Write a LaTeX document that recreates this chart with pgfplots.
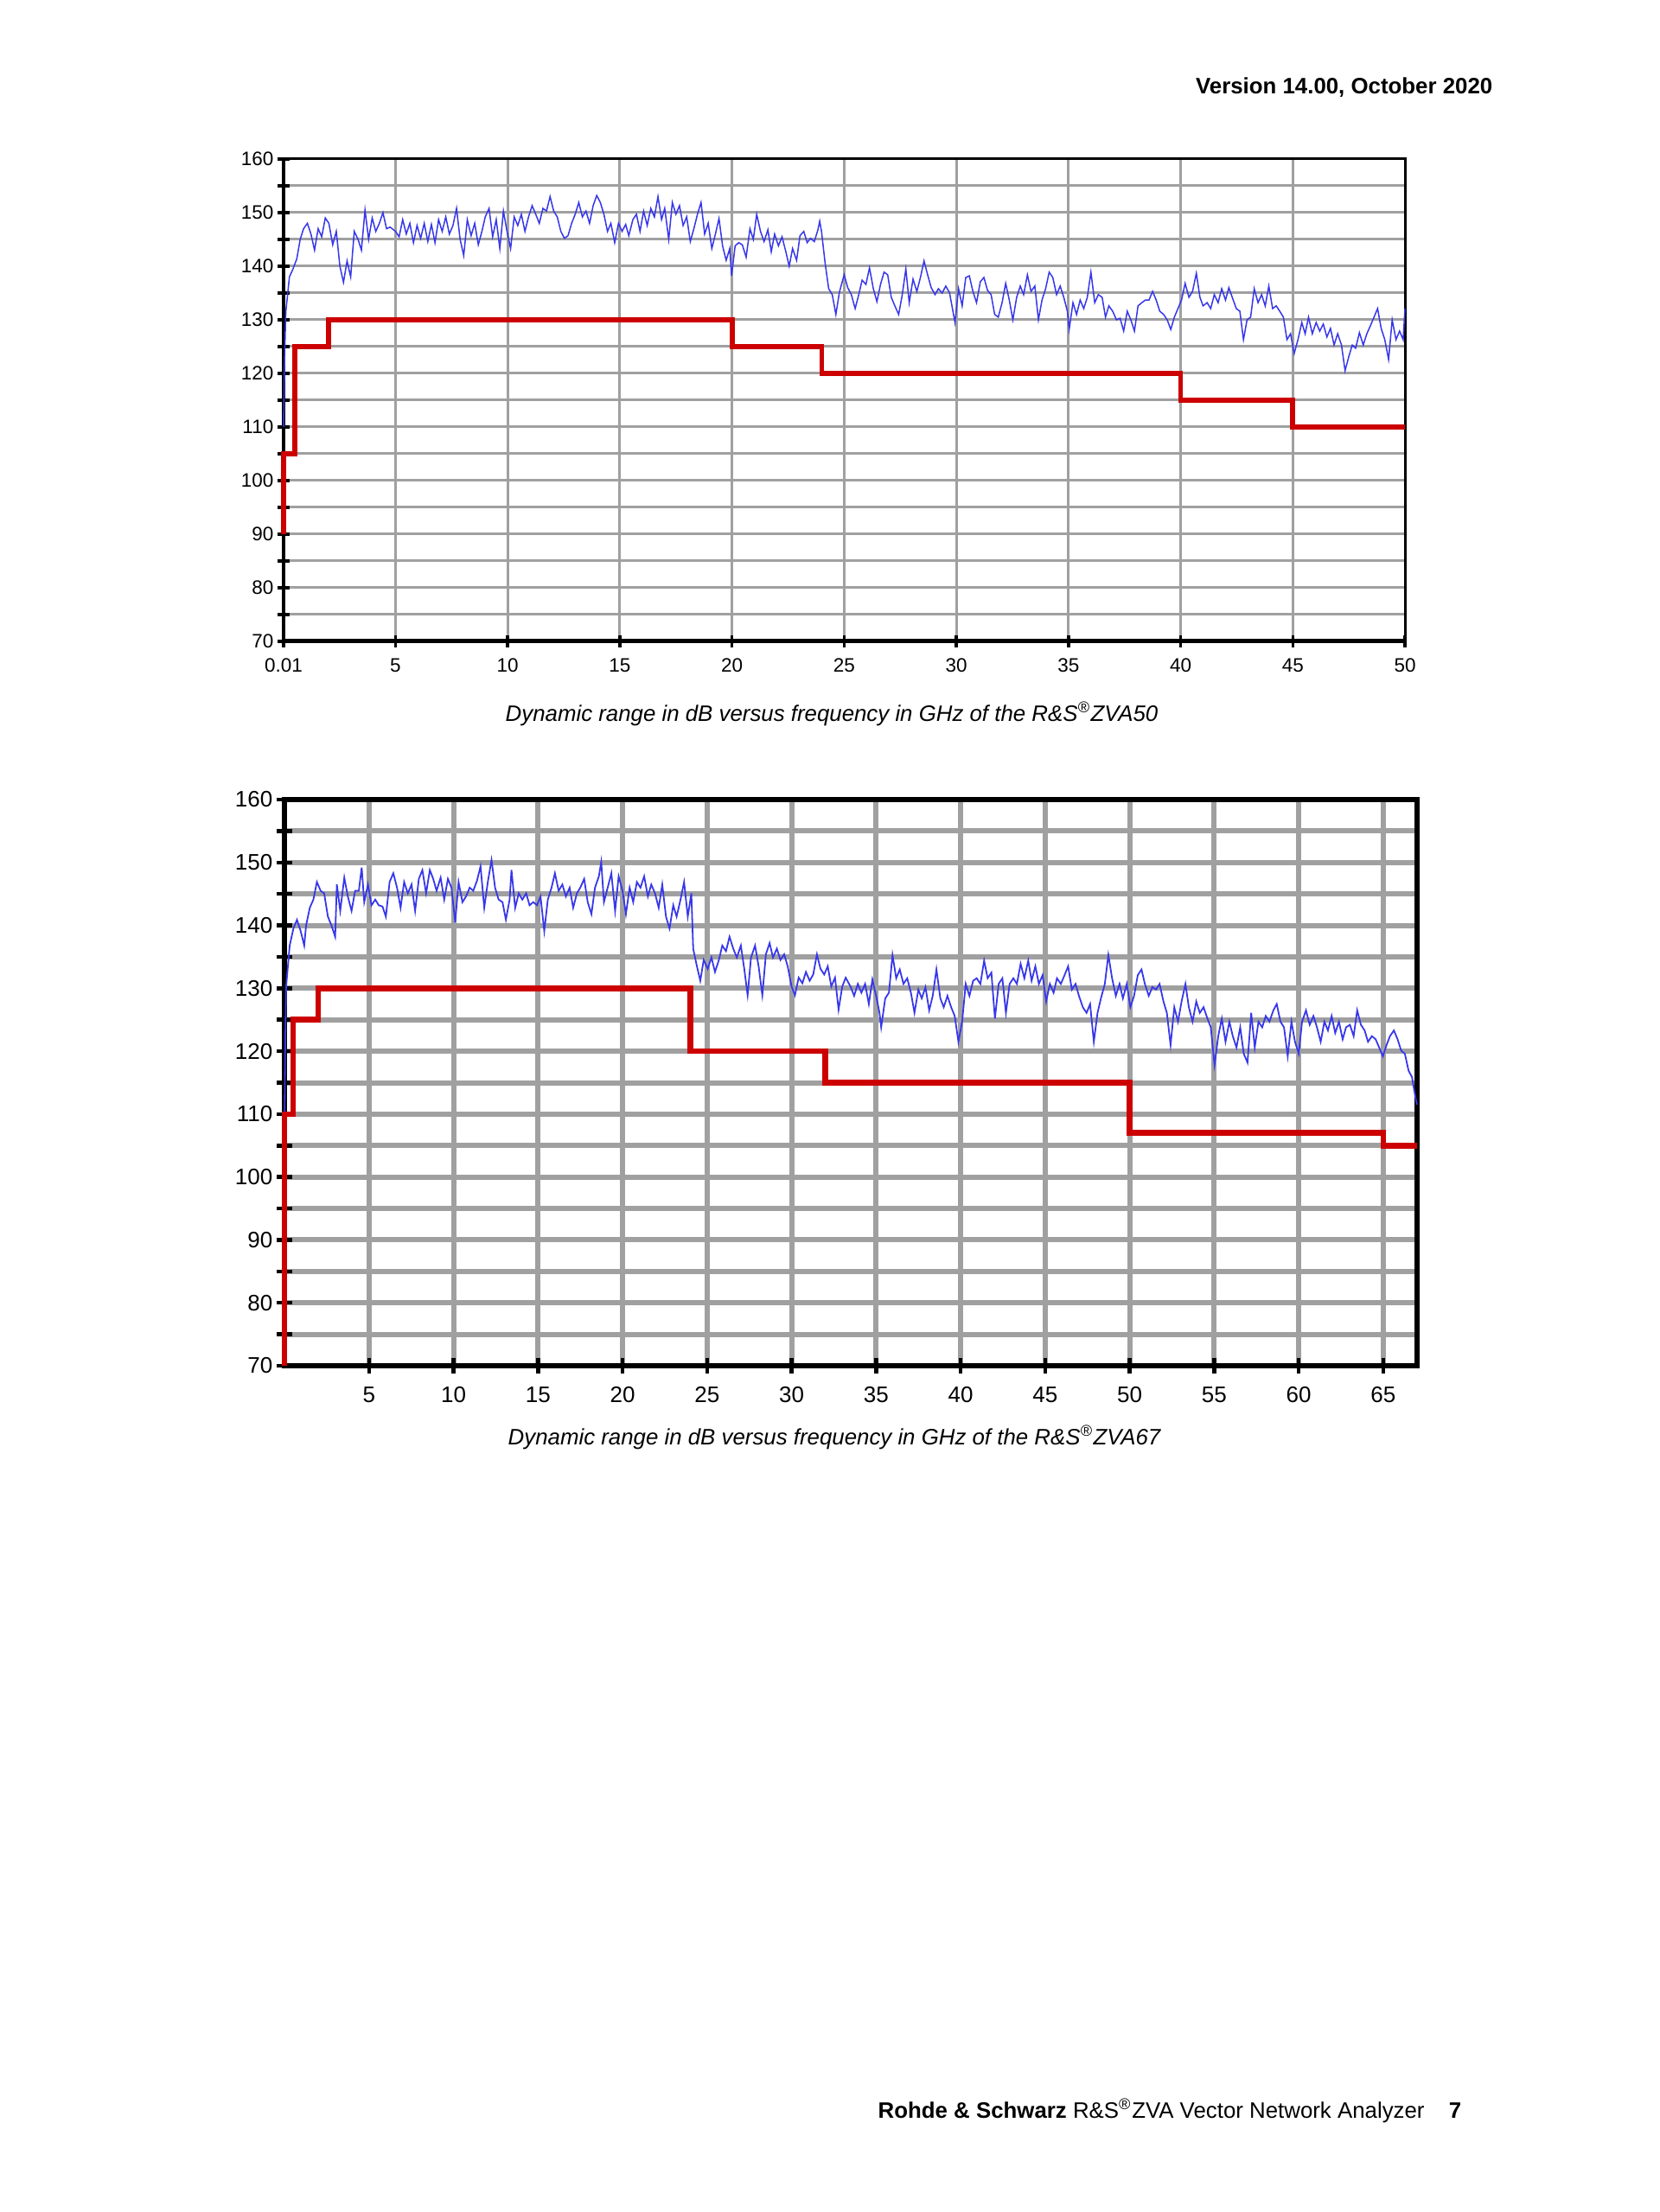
\documentclass[border=0pt]{standalone}
\usepackage{fontspec}
\setmainfont{Liberation Sans}
\usepackage{pgfplots}
\pgfplotsset{compat=1.18}

\definecolor{tracecol}{RGB}{55,55,235}
\definecolor{limitcol}{RGB}{204,0,0}
\definecolor{gridcol}{RGB}{160,160,160}

\newcommand{\pagefont}{\fontsize{7.35}{9}\selectfont}

\pgfplotsset{
  zva/.style={
    scale only axis, clip=false,
    ymin=70, ymax=160,
    ytick={70,80,...,160},
    minor ytick={75,85,...,155},
    grid=both,
    tick pos=left,
    tick align=center,
    /pgf/number format/assume math mode=true,
  }
}

\begin{document}
\begin{tikzpicture}
\useasboundingbox (0,0) rectangle (192mm,255.9mm);
\fill[white] (0,0) rectangle (192mm,255.9mm);

% page header
\node[anchor=base east, inner sep=0pt, font=\pagefont\bfseries] at (172.7mm,245.0mm) {Version 14.00, October 2020};

% ---------- ZVA50 ----------
\begin{axis}[zva,
  at={(32.8mm,181.7mm)}, anchor=south west,
  width=129.7mm, height=55.8mm,
  xmin=0.01, xmax=50,
  xtick={0.01,5,10,15,20,25,30,35,40,45,50},
  xticklabels={0.01,5,10,15,20,25,30,35,40,45,50},
  major grid style={line width=0.3mm, gridcol},
  minor grid style={line width=0.3mm, gridcol},
  axis line style={line width=0.3mm, black},
  major tick length=1.4mm, minor tick length=1.4mm,
  tick style={black, line width=0.35mm},
  ticklabel style={font=\fontsize{6.4}{7}\selectfont},
  yticklabel style={inner sep=0pt, anchor=east, xshift=-0.4mm},
  xticklabel style={inner sep=0pt, anchor=north, yshift=-1.2mm},
]
\draw[black, line width=0.5mm] (rel axis cs:0,0) -- (rel axis cs:1,0);
\draw[black, line width=0.4mm] (rel axis cs:0,0) -- (rel axis cs:0,1);

\addplot[tracecol, line width=0.15mm] table {
x y
0.01 110
0.05 122
0.11 131.5
0.27 138
0.43 139.5
0.6 141.4
0.75 145
0.9 147
1.07 148
1.23 146
1.39 143
1.55 147
1.71 145.5
1.87 149
2.03 148
2.2 144
2.36 146.5
2.52 140
2.68 137
2.84 141
3.0 138
3.16 146.5
3.33 145
3.48 143
3.64 150.5
3.8 145
3.96 149
4.12 146.5
4.28 148
4.44 150
4.6 147
4.76 147.3
5.0 146.5
5.16 145.5
5.32 148.7
5.48 146
5.64 148
5.8 144.4
5.96 147.6
6.12 145.2
6.28 148
6.44 144.6
6.6 147.8
6.76 144.4
6.92 148.7
7.08 146.5
7.24 149.2
7.4 146
7.56 147.6
7.72 150.8
7.88 145
8.04 142
8.2 148.7
8.37 145.7
8.53 148
8.69 144
8.85 146.5
9.0 149.2
9.17 150.8
9.33 145.5
9.49 148.7
9.65 143.3
9.81 150.3
9.97 146.5
10.13 143.3
10.29 149.2
10.45 147.6
10.61 149.7
10.77 146.5
10.93 149.2
11.09 151.3
11.25 149.7
11.41 148
11.57 150.8
11.73 150.3
11.89 153
12.05 150.3
12.21 149.2
12.37 146.5
12.53 145.2
12.69 145.7
12.85 148
13.01 149.7
13.17 151.9
13.33 149.2
13.49 150.3
13.65 148
13.81 151.3
13.97 153.2
14.13 151.9
14.29 149.7
14.45 146.5
14.6 148
14.77 144.4
14.94 148
15.1 146.5
15.26 147.8
15.4 145.7
15.58 148.7
15.74 149.7
15.9 146.5
16.06 150.3
16.22 147.6
16.38 150.8
16.54 149.2
16.7 153
16.86 148.7
17.0 150.8
17.18 145
17.34 151.9
17.5 149.7
17.66 151.3
17.82 147.6
17.98 149.2
18.14 144.6
18.3 147
18.46 149.7
18.62 151.9
18.78 146
18.94 148
19.1 143.3
19.26 146
19.42 148.9
19.58 143.8
19.74 141.1
19.9 143.3
19.98 138.2
20.14 143.8
20.3 144.4
20.46 144
20.63 141.7
20.8 147
20.95 145
21.1 149.7
21.27 146.5
21.43 144.6
21.6 146.8
21.75 142.7
21.9 146
22.07 143.8
22.23 145.5
22.4 142.7
22.55 140
22.7 143.3
22.88 141.1
23.03 145.7
23.2 146.5
23.35 144.4
23.5 145.2
23.67 144.6
23.83 146.8
23.91 148.4
23.99 146.5
24.15 140.6
24.31 135.8
24.47 134.7
24.63 131
24.79 135.2
25.0 138.4
25.16 136
25.32 134.7
25.49 132.1
25.65 134.7
25.8 137.4
25.97 136.6
26.13 139.7
26.3 135.8
26.46 133.4
26.62 136.6
26.78 138.9
26.94 138.4
27.1 134.2
27.26 132.6
27.43 131
27.59 134.7
27.75 139.5
27.9 133.2
28.07 137.6
28.24 135.3
28.4 137.9
28.56 141
28.72 138.4
28.88 136
29.05 134.7
29.2 135.8
29.37 135
29.53 136.3
29.7 135
29.94 129.5
30.1 135.8
30.26 132.6
30.42 137.9
30.58 138.2
30.74 135.3
30.9 133.2
31.07 137.1
31.23 137.9
31.39 135.5
31.55 134.7
31.71 131
31.87 130.5
32.04 133.2
32.2 136.8
32.36 133.7
32.52 130
32.69 134.2
32.85 136.3
33.0 134.7
33.17 138.4
33.33 135.3
33.5 136.3
33.66 130
33.82 133.7
33.98 135.8
34.14 138.9
34.3 137.9
34.47 134.7
34.63 136.3
34.79 134.2
34.95 131.6
35.03 128.2
35.2 133.2
35.36 131
35.52 133.7
35.68 132.1
35.84 134.2
36.0 138.9
36.17 133.2
36.33 134.7
36.5 134.2
36.65 130.5
36.8 132.6
36.97 131.6
37.14 130
37.3 130.3
37.46 127.9
37.62 131.6
37.78 130
37.94 127.9
38.1 132.6
38.27 133.2
38.43 133.7
38.59 133.7
38.75 135.3
38.91 133.7
39.07 131.6
39.24 131
39.4 130
39.56 128.2
39.72 130.5
39.88 132.1
40.04 133.7
40.2 136.8
40.37 134.2
40.53 135.3
40.7 138.7
40.86 134.2
41.0 132.6
41.18 133.2
41.34 132.1
41.5 134.7
41.67 133.2
41.83 135.8
42.0 133.7
42.15 136
42.3 134.2
42.48 132.1
42.64 131.6
42.8 126.3
42.96 130
43.12 130.5
43.28 135.8
43.45 133.2
43.61 134.7
43.77 132.6
43.93 136.3
44.1 132.1
44.26 132.6
44.42 131.6
44.58 130.5
44.74 126.3
44.9 127.4
45.06 123.7
45.23 126.3
45.4 129.5
45.55 127.4
45.7 130.5
45.87 127.4
46.04 129.5
46.2 127.9
46.36 129.2
46.52 126.8
46.68 128.4
46.84 125.3
47.0 127.4
47.17 125.3
47.33 120.5
47.5 123.2
47.65 125.3
47.8 124.7
47.97 127.6
48.14 125.3
48.3 127.4
48.46 128.9
48.62 130.5
48.78 132.1
48.94 128.4
49.1 126.3
49.27 122.6
49.43 130
49.6 126.3
49.76 127.9
49.92 126.3
50 132.1
};

\addplot[limitcol, line width=0.58mm] coordinates {
(0.01,90) (0.01,105) (0.5,105) (0.5,125) (2,125) (2,130) (20,130) (20,125)
(24,125) (24,120) (40,120) (40,115) (45,115) (45,110) (50,110)};
\end{axis}

\node[anchor=base, inner sep=0pt, font=\pagefont\itshape] at (96.2mm,172.4mm)
  {Dynamic range in dB versus frequency in GHz of the R\&S\textsuperscript{®}ZVA50};

% ---------- ZVA67 ----------
\begin{axis}[zva,
  at={(32.9mm,97.9mm)}, anchor=south west,
  width=131.0mm, height=65.5mm,
  xmin=0, xmax=67,
  xtick={5,10,...,65},
  major grid style={line width=0.6mm, gridcol},
  minor grid style={line width=0.6mm, gridcol},
  axis line style={line width=0.55mm, black},
  major tick length=1.8mm, minor tick length=1.8mm,
  tick style={black, line width=0.45mm},
  ticklabel style={font=\fontsize{7.4}{8.5}\selectfont},
  yticklabel style={inner sep=0pt, anchor=east, xshift=-0.4mm},
  xticklabel style={inner sep=0pt, anchor=north, yshift=-1.5mm},
]
\addplot[tracecol, line width=0.18mm] table {
x y
0.01 110
0.05 122
0.1 130.3
0.31 136.8
0.53 139.5
0.74 140.9
0.96 139.1
1.17 136.8
1.28 140
1.5 142.8
1.71 144.1
1.92 146.9
2.14 145.5
2.35 145.1
2.57 141.4
2.78 140
3.0 138.2
3.1 146.5
3.3 142.3
3.54 147.6
3.75 144.6
3.97 142.3
4.18 145.5
4.4 145.5
4.57 149.2
4.72 143.7
4.94 146.5
5.15 143.2
5.37 144.1
5.58 143.2
5.8 143
6.0 141.4
6.22 146.9
6.44 148.3
6.66 146
6.87 142.8
7.08 146.9
7.3 145.1
7.52 146.5
7.73 142.3
7.95 147.4
8.16 148.8
8.38 145.1
8.6 148.8
8.8 147.4
9.0 145.5
9.24 147.6
9.45 144.1
9.67 147.4
9.88 146
10.1 140.5
10.3 146.9
10.53 143.7
10.74 144.6
10.96 146
11.17 145.5
11.39 147.1
11.6 149.4
11.82 142.8
12.03 146.9
12.25 150.4
12.46 146
12.67 144.1
12.9 143.7
13.1 140.9
13.32 144.1
13.43 148.8
13.65 142.8
13.86 145.1
14.07 144.1
14.3 145.1
14.5 143.2
14.72 143.7
14.94 143.2
15.15 144.6
15.37 139.1
15.58 144.1
15.8 146
16.0 148.3
16.22 145.5
16.44 146.5
16.65 144.6
16.87 146
17.08 142.8
17.3 145.1
17.5 146
17.73 147.4
17.94 143.7
18.16 141.8
18.37 146
18.6 147.8
18.74 150.1
18.9 143.7
19.12 146
19.34 148.3
19.56 142.3
19.77 147.8
20.0 145.5
20.2 141.8
20.42 146
20.63 143.7
20.85 146.9
21.06 146
21.28 147.8
21.5 144.6
21.7 146.5
21.92 145.1
22.14 142.8
22.35 146.5
22.57 141.4
22.78 139.5
23.0 143.2
23.2 141.4
23.43 144.1
23.64 146.9
23.86 141.4
24.07 145.1
24.18 136.3
24.4 133.5
24.6 131.2
24.8 134.5
25.04 133.1
25.26 134.9
25.47 132.6
25.7 134.5
25.9 136.8
26.12 135.9
26.33 138.2
26.55 136.3
26.76 134.9
27.0 136.8
27.2 133.1
27.4 128.9
27.6 134.9
27.84 136.8
28.05 133.5
28.27 128.9
28.48 135.4
28.7 137.2
28.9 134.9
29.13 136.3
29.34 134.5
29.56 135.4
29.77 133.5
30.0 130.3
30.2 128.9
30.42 131.7
30.64 130.8
30.85 132.6
31.07 131.2
31.28 132.2
31.5 135.4
31.71 133.1
31.93 132.2
32.14 133.5
32.35 130.3
32.57 131.7
32.78 126.6
33.0 130.3
33.2 131.7
33.5 130.2
33.7 128.8
33.92 130.7
34.13 129.3
34.35 130.7
34.57 127.5
34.78 131.4
35.0 128.8
35.2 126.1
35.3 123.8
35.54 128.4
35.76 129.3
35.97 135.3
36.19 131.6
36.4 133
36.62 130.7
36.84 131.6
37.06 129.3
37.27 126.1
37.5 129.8
37.7 128.4
37.92 130.2
38.14 126.5
38.35 128.8
38.57 133
38.8 128.4
39.0 127
39.22 128.8
39.44 127
39.65 125.6
39.87 121.5
40.09 124.7
40.3 130.7
40.52 128.8
40.74 131.2
40.95 131.6
41.17 130.7
41.39 134.4
41.6 131.6
41.82 132.5
42.03 125.2
42.25 130.7
42.47 131.6
42.68 126.1
42.9 130.7
43.12 131.6
43.33 130.7
43.55 133.9
43.77 131.6
44.0 134.4
44.2 131.2
44.42 133.5
44.63 130.7
44.85 132.1
45.06 127.9
45.28 130.7
45.5 129.3
45.7 131.6
45.93 130.7
46.15 132.1
46.36 133.5
46.58 129.8
46.8 130.7
47.0 128.8
47.23 127
47.45 126.1
47.66 127.5
47.88 121.5
48.1 126.1
48.3 128.4
48.53 130.7
48.74 135.3
48.96 131.6
49.18 128.8
49.4 130.7
49.6 128.4
49.83 130.7
50.04 127
50.26 128.8
50.48 132.1
50.7 133
50.9 130.7
51.13 128.8
51.34 130.2
51.56 129.8
51.77 130.7
52.0 127.9
52.2 126.1
52.42 121
52.64 127
52.86 124.7
53.07 127.9
53.3 130.7
53.5 127
53.72 124.7
53.94 127.9
54.15 126.1
54.37 127
54.6 125.2
54.8 123.8
55.02 117.8
55.24 122.4
55.45 125.2
55.67 121.5
55.9 124.7
56.1 122.4
56.32 120.6
56.54 123.8
56.75 119.6
56.97 118.2
57.19 126.1
57.4 120.6
57.62 124.7
57.84 123.8
58.05 125.6
58.27 124.7
58.5 126.5
58.7 127.5
58.92 124.7
59.13 123.8
59.35 119.2
59.57 124.7
59.78 121.5
60.0 119.6
60.2 124.7
60.43 126.5
60.65 124.2
60.87 125.6
61.08 123.8
61.3 121.5
61.52 124.7
61.73 123.3
61.95 125.6
62.16 122.9
62.38 124.7
62.6 121.9
62.8 123.8
63.03 124.2
63.25 122.4
63.46 126.5
63.68 124.2
63.9 123.3
64.1 121.5
64.33 122.4
64.55 121.9
64.76 120.6
64.98 119.2
65.2 121
65.4 122.4
65.63 123.3
65.85 121.9
66.06 120.1
66.28 119.6
66.5 116.9
66.7 115.9
66.93 112.3
67 111.5
};

\addplot[limitcol, line width=0.65mm] coordinates {
(0,70) (0,110) (0.5,110) (0.5,125) (2,125) (2,130) (24,130) (24,120)
(32,120) (32,115) (50,115) (50,107) (65,107) (65,105) (67,105)};
\end{axis}

\node[anchor=base, inner sep=0pt, font=\pagefont\itshape] at (96.5mm,88.7mm)
  {Dynamic range in dB versus frequency in GHz of the R\&S\textsuperscript{®}ZVA67};

% page footer
\node[anchor=base west, inner sep=0pt, font=\pagefont] at (101.5mm,10.8mm)
  {\textbf{Rohde \& Schwarz} R\&S\textsuperscript{®}ZVA Vector Network Analyzer};
\node[anchor=base east, inner sep=0pt, font=\pagefont\bfseries] at (169.1mm,10.8mm) {7};
\end{tikzpicture}
\end{document}
